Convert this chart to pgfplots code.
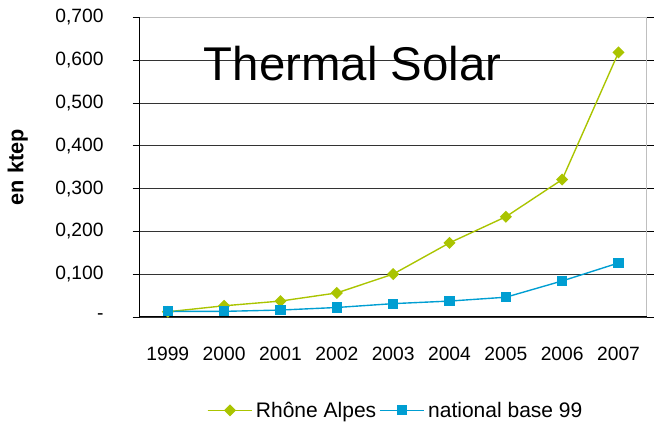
\documentclass[border=0pt]{standalone}
\usepackage{pgfplots}
\pgfplotsset{compat=1.18}
\usepackage{fontspec}
\setmainfont{Liberation Sans}
\definecolor{rhone}{RGB}{170,196,0}
\definecolor{natl}{RGB}{0,158,210}
\begin{document}
\begin{tikzpicture}
\begin{axis}[
  name=ax,
  scale only axis,
  width=512bp, height=302.5bp,
  xmin=0, xmax=9, ymin=0, ymax=0.7,
  axis line style={draw=none},
  xtick={0.5,1.5,...,8.5},
  xticklabels={1999,2000,2001,2002,2003,2004,2005,2006,2007},
  x tick style={draw=none},
  minor xtick={0,1,...,9},
  minor tick length=7bp,
  major tick length=7bp,
  tick align=outside,
  minor x tick style={black, line width=0.8pt},
  ytick={0,0.1,...,0.7},
  yticklabels={-,{0,100},{0,200},{0,300},{0,400},{0,500},{0,600},{0,700}},
  y tick style={black, line width=0.8pt},
  ymajorgrids,
  grid style={black!80, line width=0.7pt},
  ticklabel style={font=\fontsize{19.5}{22}\selectfont},
  xticklabel style={yshift=-20bp},
  yticklabel style={xshift=-26bp},
  /pgf/number format/assume math mode=true,
  legend style={draw=none, fill=none, inner sep=0pt, at={(rel axis cs:0.506,-0.312)}, anchor=center, font=\fontsize{21.3}{25}\selectfont, nodes={inner xsep=3bp, inner ysep=2.5bp}, column sep=0pt},
  legend columns=2,
  legend image code/.code={\draw[#1] (0bp,0bp) -- (45bp,0bp); \draw[#1, mark repeat=2, mark phase=2] plot coordinates {(0bp,0bp) (22.5bp,0bp) (45bp,0bp)};},
  clip=false,
]
\draw[gray!50, line width=0.8pt] (rel axis cs:0,1) -- (rel axis cs:1,1) -- (rel axis cs:1,0);
\draw[black, line width=0.9pt] (rel axis cs:0,1) -- (rel axis cs:0,0) -- (rel axis cs:1,0);
\addplot[rhone, line width=1.4pt, mark=square*, mark size=3.6bp, mark options={fill=rhone, draw=rhone, rotate=45}] coordinates {
(0.5,0.012) (1.5,0.026) (2.5,0.037) (3.5,0.056) (4.5,0.100) (5.5,0.173) (6.5,0.234) (7.5,0.321) (8.5,0.618)};
\addlegendentry{Rhône Alpes\hspace{8bp}}
\addplot[natl, line width=1.4pt, mark=square*, mark size=4.4bp, mark options={fill=natl, draw=natl}] coordinates {
(0.5,0.013) (1.5,0.013) (2.5,0.016) (3.5,0.022) (4.5,0.031) (5.5,0.037) (6.5,0.046) (7.5,0.084) (8.5,0.126)};
\addlegendentry{national base 99}
\node[font=\fontsize{48}{54}\selectfont, anchor=center] at (rel axis cs:0.42,0.845) {Thermal Solar};
\end{axis}
\node[rotate=90, font=\bfseries\fontsize{22}{24}\selectfont] at ([xshift=-123bp]ax.west) {en ktep};
\path ([xshift=-141bp,yshift=-106bp]ax.south west) rectangle ([xshift=1bp,yshift=17.5bp]ax.north east);
\end{tikzpicture}
\end{document}
